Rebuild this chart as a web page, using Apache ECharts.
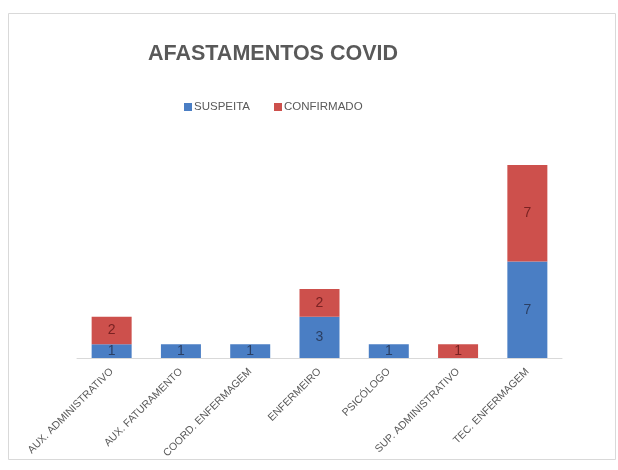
<!DOCTYPE html>
<html>
<head>
<meta charset="utf-8">
<script src="https://cdn.jsdelivr.net/npm/echarts@6/dist/echarts.min.js"></script>
<style>
  html, body { margin: 0; padding: 0; background: #ffffff; }
  #chart { width: 618px; height: 470px; }
</style>
</head>
<body>
<div id="chart"></div>
<script>
// Job roles on the x axis
const categories = [
  'AUX. ADMINISTRATIVO',
  'AUX. FATURAMENTO',
  'COORD. ENFERMAGEM',
  'ENFERMEIRO',
  'PSICÓLOGO',
  'SUP. ADMINISTRATIVO',
  'TEC. ENFERMAGEM'
];
// Cases per role
const suspeita   = [1, 1, 1, 3, 1, 0, 7];
const confirmado = [2, 0, 0, 2, 0, 1, 7];

const FONT = '"Liberation Sans", Arial, sans-serif';
const chart = echarts.init(document.getElementById('chart'), null, { renderer: 'canvas' });

const hideZero = p => (p.value ? String(p.value) : '');

chart.setOption({
  backgroundColor: '#ffffff',
  animation: false,
  title: {
    text: 'AFASTAMENTOS COVID',
    left: 268,
    top: 38,
    textAlign: 'center',
    textStyle: { fontFamily: FONT, fontSize: 21.5, fontWeight: 'bold', color: '#595959' }
  },
  legend: {
    data: ['SUSPEITA', 'CONFIRMADO'],
    left: 179,
    top: 96,
    itemWidth: 8,
    itemHeight: 8,
    itemGap: 24,
    icon: 'rect',
    textStyle: { fontFamily: FONT, fontSize: 11.5, color: '#595959', padding: [0, 0, 0, -3] }
  },
  grid: { left: 77, right: 56, top: 165, bottom: 112 },
  xAxis: {
    type: 'category',
    data: categories,
    axisLine: { lineStyle: { color: '#d9d9d9', width: 1 } },
    axisTick: { show: false },
    axisLabel: {
      rotate: 45,
      interval: 0,
      margin: 12,
      fontFamily: FONT,
      fontSize: 10.5,
      color: '#595959'
    }
  },
  yAxis: {
    type: 'value',
    min: 0,
    max: 14,
    show: false,
    splitLine: { show: false }
  },
  series: [
    {
      name: 'SUSPEITA',
      type: 'bar',
      stack: 'total',
      barWidth: 40,
      data: suspeita,
      itemStyle: { color: '#4a7ec4' },
      label: {
        show: true,
        position: 'inside',
        formatter: hideZero,
        fontFamily: FONT,
        fontSize: 14,
        color: '#2b3f63'
      }
    },
    {
      name: 'CONFIRMADO',
      type: 'bar',
      stack: 'total',
      barWidth: 40,
      data: confirmado,
      itemStyle: { color: '#cd504c' },
      label: {
        show: true,
        position: 'inside',
        formatter: hideZero,
        fontFamily: FONT,
        fontSize: 14,
        color: '#7a2222'
      }
    }
  ],
  graphic: [
    {
      type: 'rect',
      shape: { x: 8.5, y: 13.5, width: 607, height: 446 },
      style: { fill: 'none', stroke: '#d9d9d9', lineWidth: 1 },
      silent: true,
      z: -1
    }
  ]
});
</script>
</body>
</html>
